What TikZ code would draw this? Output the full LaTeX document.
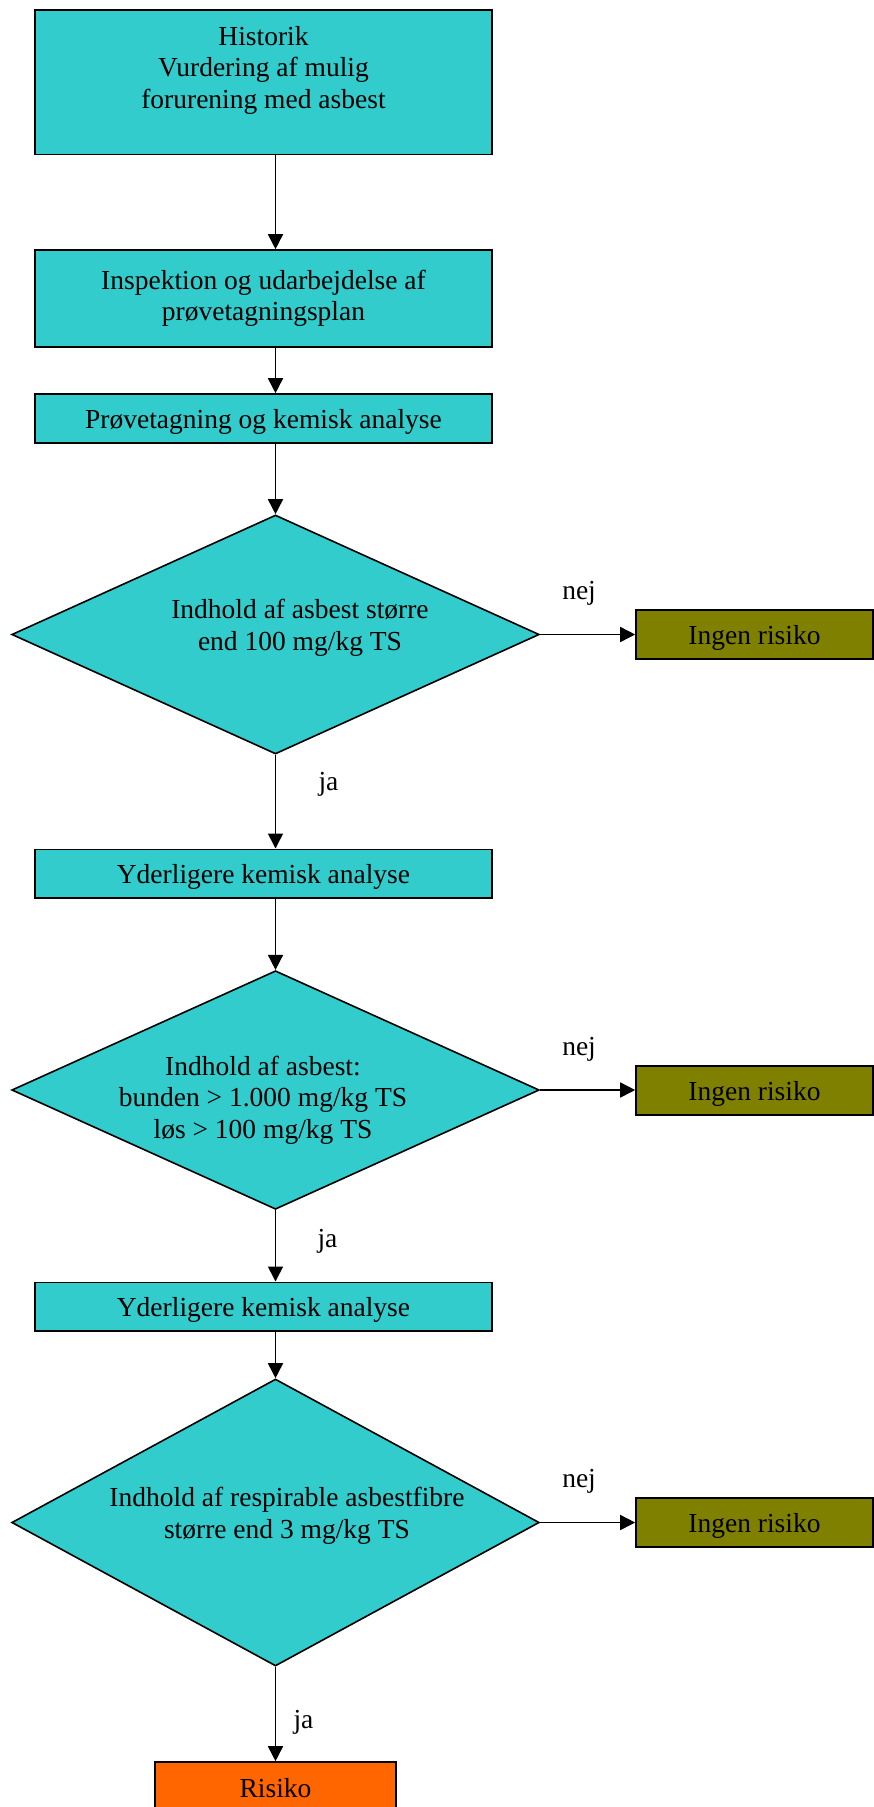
\documentclass[tikz,border=0pt]{standalone}
\usepackage{fontspec}
\setmainfont{Liberation Serif}
\usetikzlibrary{calc, shapes.geometric, arrows.meta}
\definecolor{boxteal}{HTML}{33CCCC}
\definecolor{boxolive}{HTML}{808000}
\definecolor{boxorange}{HTML}{FF6600}
\tikzset{>={Triangle[length=15pt,width=15pt]}}

\begin{document}
\begin{tikzpicture}[x=1pt, y=-1pt, font=\fontsize{27.5}{31.5}\selectfont,
  stepbox/.style={draw, line width=1.6pt, fill=boxteal, minimum width=456.6pt, inner sep=0pt, align=center},
  onebox/.style={text height=22pt, text depth=2pt},
  nobox/.style={draw, line width=1.6pt, fill=boxolive, minimum width=237pt, minimum height=49pt, inner sep=0pt, onebox},
  query/.style={draw, line width=1.6pt, fill=boxteal, diamond, minimum width=527.5pt, inner sep=0pt},
  txt/.style={align=center, inner sep=0pt},
  lbl/.style={anchor=base, inner sep=0pt},
  arr/.style={->, line width=1.6pt}]
\useasboundingbox (0,0) rectangle (873,1807);
\coordinate (axis) at (275.5,0);

\node[stepbox, minimum height=144.3pt] (b1) at (263.5,82.15) {};
\node[txt] (t1) at (263.5,70) {Historik\\Vurdering af mulig\\forurening med asbest};
\node[stepbox, minimum height=96.7pt] (b2) at (263.5,298.35) {Inspektion og udarbejdelse af\\prøvetagningsplan};
\node[stepbox, onebox, minimum height=48.7pt] (b3) at (263.5,418.35) {Prøvetagning og kemisk analyse};
\node[query, minimum height=239pt] (d1) at (275.5,634.5) {};
\node[txt] (t4) at (300,628) {Indhold af asbest større\\end 100 mg/kg TS};
\node[nobox] (n1) at (754.5,634.65) {Ingen risiko};
\node[stepbox, onebox, minimum height=48.4pt] (b4) at (263.5,873.5) {Yderligere kemisk analyse};
\node[query, minimum height=238.6pt] (d2) at (275.5,1090) {};
\node[txt] (t6) at (263,1100) {Indhold af asbest:\\bunden > 1.000 mg/kg TS\\løs > 100 mg/kg TS};
\node[nobox] (n2) at (754.5,1090.5) {Ingen risiko};
\node[stepbox, onebox, minimum height=48.4pt] (b5) at (263.5,1306.5) {Yderligere kemisk analyse};
\node[query, minimum height=287pt] (d3) at (275.5,1522.5) {};
\node[txt] (t8) at (287,1516) {Indhold af respirable asbestfibre\\større end 3 mg/kg TS};
\node[nobox] (n3) at (754.5,1522.5) {Ingen risiko};
\node[nobox, fill=boxorange, minimum width=241pt, minimum height=50pt] (r) at (275.5,1787) {Risiko};

\foreach \a/\b in {b1/b2, b2/b3, b3/d1, d1/b4, b4/d2, d2/b5, b5/d3, d3/r}
  \draw[arr] (\a.south -| axis) -- (\b.north -| axis);
\foreach \d in {1,2,3} {
  \draw[arr] (d\d.east) -- (d\d.east -| n\d.west);
  \node[lbl] (nej\d) at ($(d\d.east)+(39,-35)$) {nej};
}
\node[lbl] (ja1) at ($(d1.south)+(53,36)$) {ja};
\node[lbl] (ja2) at ($(d2.south)+(52,37)$) {ja};
\node[lbl] (ja3) at ($(d3.south)+(28,62)$) {ja};
\end{tikzpicture}
\end{document}
